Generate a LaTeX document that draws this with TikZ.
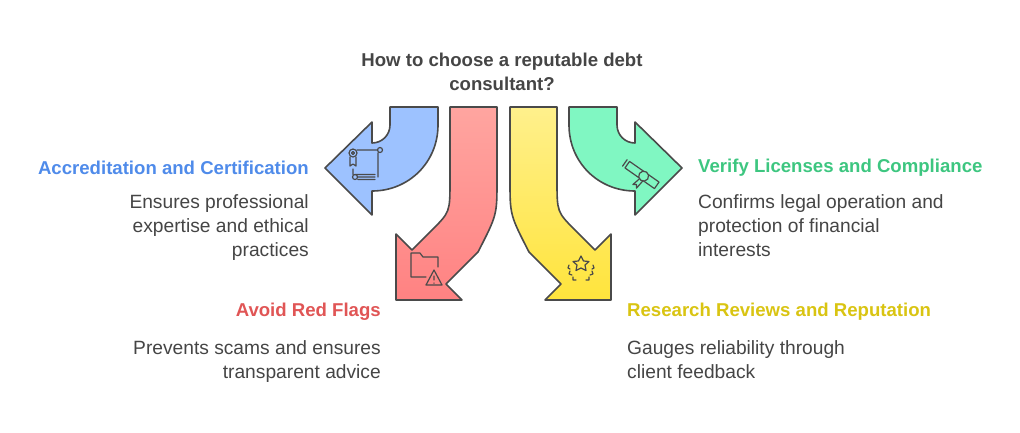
\documentclass[tikz,border=0pt]{standalone}
\usepackage{fontspec}
\setmainfont{Liberation Sans}
\definecolor{tx}{HTML}{454545}
\definecolor{ln}{HTML}{4A4A4A}
\definecolor{cb}{HTML}{4F8BEA}
\definecolor{cr}{HTML}{E05555}
\definecolor{cy}{HTML}{D9C412}
\definecolor{cg}{HTML}{3DC680}
\definecolor{fb}{HTML}{9DC2FF}
\definecolor{fg}{HTML}{80F7C2}
\tikzset{
 arr/.style={draw=ln,line width=1.6pt,line join=round},
 ttl/.style={font=\bfseries\fontsize{18.6}{24}\selectfont,inner sep=0},
 bdy/.style={font=\fontsize{19.2}{24}\selectfont,text=tx,inner sep=0},
 ico/.style={draw=ln,line width=1.2pt,line cap=round,line join=round}
}
\begin{document}
\begin{tikzpicture}[x=1pt,y=-1pt]
\useasboundingbox (0,0) rectangle (1020,432);
% blue
\path[arr,fill=fb]
 (390,107) -- (438,107) -- (438,125) .. controls (438,162) and (409,191) .. (372,191)
 -- (372,215) -- (325,168) -- (372,122) -- (372,143) .. controls (382,143) and (390,135) .. (390,125) -- cycle;
\begin{scope}[xshift=1007,xscale=-1]
\path[arr,fill=fg]
 (390,107) -- (438,107) -- (438,125) .. controls (438,162) and (409,191) .. (372,191)
 -- (372,215) -- (325,168) -- (372,122) -- (372,143) .. controls (382,143) and (390,135) .. (390,125) -- cycle;
\end{scope}
% red
\path[arr,top color={rgb,255:red,255;green,165;blue,160},bottom color={rgb,255:red,255;green,130;blue,130}]
 (450,107) -- (497,107) -- (497,180) .. controls (497,215) .. (478,252) -- (446,284) -- (462,300)
 -- (396,300) -- (396,234) -- (412,250) -- (432,230) .. controls (450,212) .. (450,180) -- cycle;
\begin{scope}[xshift=1007,xscale=-1]
\path[arr,top color={rgb,255:red,255;green,240;blue,140},bottom color={rgb,255:red,255;green,228;blue,60}]
 (450,107) -- (497,107) -- (497,180) .. controls (497,215) .. (478,252) -- (446,284) -- (462,300)
 -- (396,300) -- (396,234) -- (412,250) -- (432,230) .. controls (450,212) .. (450,180) -- cycle;
\end{scope}
% scroll with medal
\draw[ico] (353,153) circle (4); \draw[ico] (353,153) circle (1.5);
\draw[ico] (350,157) -- (350,166) -- (353,164) -- (356,166) -- (356,157);
\draw[ico] (357,150) -- (378,150) (380,150) circle (2.5) (378,153) -- (378,177);
\draw[ico] (358,177) -- (375,177) (355,177) circle (2.5) (355,174.5) -- (375,174.5) (375,179.5) -- (358,179.5) (353,169) -- (353,174.5);
% folder with warning
\draw[ico] (426,277) -- (411,277) -- (411,253) -- (420,253) -- (423,257) -- (438,257) -- (438,267);
\draw[ico] (434,270) -- (426,285) -- (442,285) -- cycle (434,276) -- (434,280) (434,283) -- (434,283.2);
% star with laurels
\draw[ico] (581,256) -- (583.5,261) -- (589,261.5) -- (585,265) -- (586,270.5) -- (581,268) -- (576,270.5) -- (577,265) -- (573,261.5) -- (578.5,261) -- cycle;
\foreach \s in {1,-1}{
 \begin{scope}[xshift=581,xscale=\s]
 \draw[ico] (-12,265) -- (-13,268) -- (-11,269) (-11,271) -- (-12,274) -- (-9,275) (-8,277) -- (-8,280) -- (-5,280);
 \end{scope}}
% diploma
\begin{scope}[shift={(642,175)},rotate=-35]
\draw[ico] (-18,-4) rectangle (18,4); \draw[ico] (-21,-4) -- (-21,4);
\draw[ico,fill=fg] (2,0) circle (5);
\draw[ico] (0,5) -- (-2,13) -- (1,11) -- (3,14) -- (4,5);
\end{scope}
% texts
\node[ttl,text=tx,align=center] at (502,72) {How to choose a reputable debt\\consultant?};
\node[ttl,text=cb,anchor=east] at (309,168) {Accreditation and Certification};
\node[bdy,anchor=north east,align=right] at (309,194) {Ensures professional\\expertise and ethical\\practices};
\node[ttl,text=cg,anchor=west] at (698,168) {Verify Licenses and Compliance};
\node[bdy,anchor=north west,align=left] at (698,194) {Confirms legal operation and\\protection of financial\\interests};
\node[ttl,text=cr,anchor=east] at (381,312) {Avoid Red Flags};
\node[bdy,anchor=north east,align=right] at (381,340) {Prevents scams and ensures\\transparent advice};
\node[ttl,text=cy,anchor=west] at (627,312) {Research Reviews and Reputation};
\node[bdy,anchor=north west,align=left] at (627,340) {Gauges reliability through\\client feedback};
\end{tikzpicture}
\end{document}
